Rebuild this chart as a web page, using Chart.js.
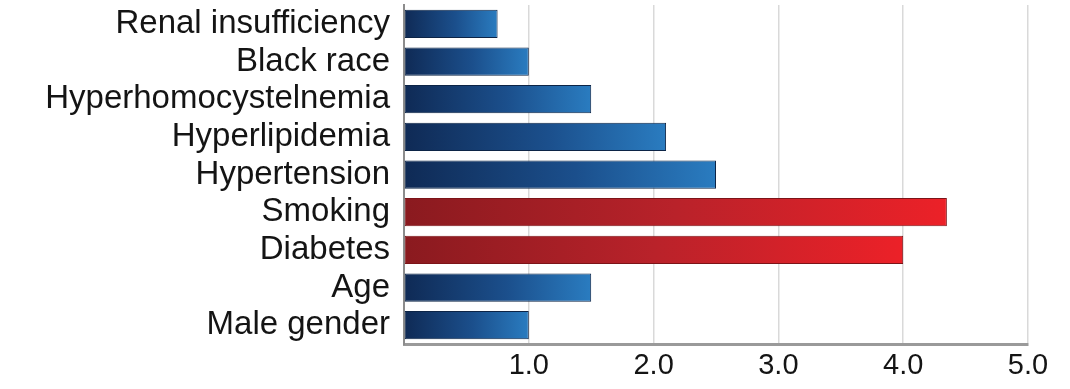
<!DOCTYPE html>
<html>
<head>
<meta charset="utf-8">
<script src="https://cdn.jsdelivr.net/npm/chart.js@4.4.1/dist/chart.umd.min.js"></script>
<style>
  html, body { margin: 0; padding: 0; background: #fff; }
  #wrap { width: 1070px; height: 389px; }
</style>
</head>
<body>
<div id="wrap"><canvas id="riskChart"></canvas></div>
<script>
// Risk factors, top to bottom as in the picture
const factors = [
  "Renal insufficiency",
  "Black race",
  "Hyperhomocystelnemia",
  "Hyperlipidemia",
  "Hypertension",
  "Smoking",
  "Diabetes",
  "Age",
  "Male gender"
];
const riskValues = [0.75, 1.0, 1.5, 2.1, 2.5, 4.35, 4.0, 1.5, 1.0];
const xTicks = [1, 2, 3, 4, 5];
const highlighted = ["Smoking", "Diabetes"];

// gradient from the axis to the end of each bar
function barFill(context) {
  const chart = context.chart;
  const area = chart.chartArea;
  if (!area) return "#1f5a9a";
  const i = context.dataIndex;
  const end = chart.scales.x.getPixelForValue(riskValues[i]);
  const g = chart.ctx.createLinearGradient(area.left, 0, end, 0);
  if (highlighted.includes(factors[i])) {
    g.addColorStop(0, "#8a1a1f");
    g.addColorStop(0.5, "#b9222a");
    g.addColorStop(1, "#ec2128");
  } else {
    g.addColorStop(0, "#0f2a55");
    g.addColorStop(0.55, "#1b4f8c");
    g.addColorStop(1, "#2a7cc0");
  }
  return g;
}

function barBorder(context) {
  return highlighted.includes(factors[context.dataIndex]) ? "#7c1418" : "#0c2446";
}

const ctx = document.getElementById("riskChart").getContext("2d");
const riskChart = new Chart(ctx, {
  type: "bar",
  data: {
    labels: factors,
    datasets: [
      {
        data: riskValues,
        backgroundColor: barFill,
        borderColor: barBorder,
        borderWidth: 1,
        borderSkipped: false,
        barPercentage: 0.75,
        categoryPercentage: 1.0
      }
    ]
  },
  options: {
    indexAxis: "y",
    responsive: true,
    maintainAspectRatio: false,
    animation: false,
    layout: { padding: { top: 5, right: 42, bottom: 0, left: 0 } },
    plugins: {
      legend: { display: false },
      tooltip: { enabled: false }
    },
    scales: {
      x: {
        min: 0,
        max: 5,
        afterFit: (axis) => {
          axis.height = 45;
          axis.paddingLeft = 0;
        },
        afterBuildTicks: (axis) => {
          axis.ticks = [{ value: 0 }].concat(xTicks.map((v) => ({ value: v })));
        },
        ticks: {
          padding: 5,
          color: "#141414",
          font: { family: "Liberation Sans, Arial, sans-serif", size: 29 },
          callback: (v) => (v === 0 ? "" : Number(v).toFixed(1))
        },
        grid: {
          color: "#d9d9d9",
          lineWidth: 1.5,
          drawTicks: false
        },
        border: { color: "#9a9a9a", width: 3 }
      },
      y: {
        afterFit: (axis) => {
          axis.width = 404;
          axis.paddingTop = 0;
          axis.paddingBottom = 0;
        },
        ticks: {
          autoSkip: false,
          padding: 6,
          color: "#141414",
          font: { family: "Liberation Sans, Arial, sans-serif", size: 33 }
        },
        grid: { display: false },
        border: { color: "#8c8c8c", width: 2 }
      }
    }
  }
});
</script>
</body>
</html>
